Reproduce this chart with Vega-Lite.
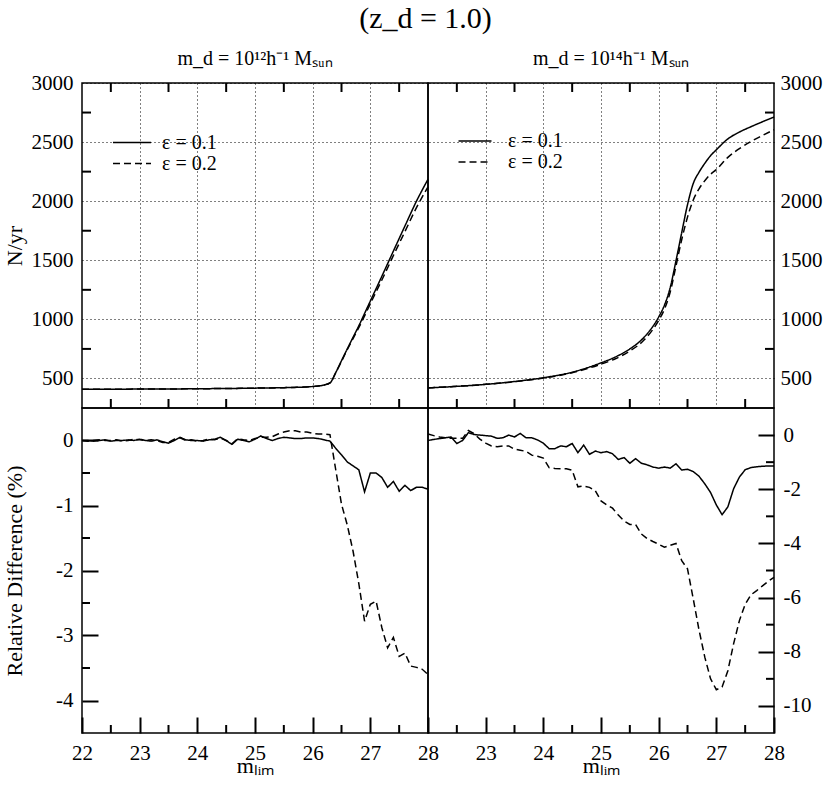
{
  "$schema": "https://vega.github.io/schema/vega-lite/v6.json",
  "padding": {"left": 2, "top": 4, "right": 4, "bottom": 2},
  "title": {"text": "(z_d = 1.0)", "fontSize": 30, "anchor": "middle", "offset": 14, "dx": 13},
  "datasets": {
    "top12": [
      {"m": 22, "e1": 408, "e2": 408}, {"m": 22.5, "e1": 409, "e2": 409}, {"m": 23, "e1": 410, "e2": 410},
      {"m": 23.5, "e1": 411, "e2": 411}, {"m": 24, "e1": 413, "e2": 413}, {"m": 24.5, "e1": 415, "e2": 415},
      {"m": 25, "e1": 418, "e2": 418}, {"m": 25.5, "e1": 422, "e2": 422}, {"m": 26, "e1": 432, "e2": 432},
      {"m": 26.2, "e1": 445, "e2": 445}, {"m": 26.3, "e1": 462, "e2": 462}, {"m": 26.4, "e1": 550, "e2": 547},
      {"m": 26.5, "e1": 650, "e2": 645}, {"m": 26.6, "e1": 750, "e2": 743}, {"m": 26.7, "e1": 848, "e2": 837},
      {"m": 26.8, "e1": 945, "e2": 930}, {"m": 26.9, "e1": 1050, "e2": 1029}, {"m": 27, "e1": 1155, "e2": 1132},
      {"m": 27.2, "e1": 1365, "e2": 1333}, {"m": 27.4, "e1": 1578, "e2": 1540}, {"m": 27.6, "e1": 1790, "e2": 1743},
      {"m": 27.8, "e1": 2000, "e2": 1945}, {"m": 28, "e1": 2185, "e2": 2122}
    ],
    "top14": [
      {"m": 22, "e1": 420, "e2": 420}, {"m": 22.5, "e1": 433, "e2": 433}, {"m": 23, "e1": 450, "e2": 450},
      {"m": 23.5, "e1": 474, "e2": 472}, {"m": 24, "e1": 506, "e2": 503}, {"m": 24.5, "e1": 553, "e2": 548},
      {"m": 25, "e1": 632, "e2": 621}, {"m": 25.25, "e1": 682, "e2": 667}, {"m": 25.5, "e1": 750, "e2": 732},
      {"m": 25.75, "e1": 850, "e2": 827}, {"m": 26, "e1": 1020, "e2": 991}, {"m": 26.1, "e1": 1120, "e2": 1086},
      {"m": 26.2, "e1": 1268, "e2": 1231}, {"m": 26.3, "e1": 1495, "e2": 1451}, {"m": 26.4, "e1": 1735, "e2": 1676},
      {"m": 26.5, "e1": 1970, "e2": 1865}, {"m": 26.6, "e1": 2150, "e2": 2010}, {"m": 26.7, "e1": 2245, "e2": 2105},
      {"m": 26.8, "e1": 2320, "e2": 2173}, {"m": 26.9, "e1": 2385, "e2": 2228}, {"m": 27, "e1": 2435, "e2": 2267},
      {"m": 27.2, "e1": 2527, "e2": 2371}, {"m": 27.4, "e1": 2585, "e2": 2445}, {"m": 27.6, "e1": 2630, "e2": 2505},
      {"m": 27.8, "e1": 2672, "e2": 2556}, {"m": 28, "e1": 2712, "e2": 2605}
    ],
    "bot12": [
      {"m": 22, "e1": 0, "e2": 0}, {"m": 22.1, "e1": 0, "e2": -0.01}, {"m": 22.2, "e1": -0.01, "e2": 0},
      {"m": 22.3, "e1": 0, "e2": 0.01}, {"m": 22.4, "e1": 0.01, "e2": 0}, {"m": 22.5, "e1": -0.01, "e2": 0},
      {"m": 22.6, "e1": 0, "e2": 0.01}, {"m": 22.7, "e1": 0, "e2": -0.01}, {"m": 22.8, "e1": 0.01, "e2": 0},
      {"m": 22.9, "e1": 0, "e2": 0.02}, {"m": 23, "e1": 0.02, "e2": 0.01}, {"m": 23.1, "e1": 0, "e2": 0},
      {"m": 23.2, "e1": -0.01, "e2": 0.01}, {"m": 23.3, "e1": 0.01, "e2": 0}, {"m": 23.4, "e1": -0.02, "e2": -0.03},
      {"m": 23.5, "e1": -0.04, "e2": -0.03}, {"m": 23.6, "e1": 0, "e2": 0.02}, {"m": 23.7, "e1": 0.05, "e2": 0.04},
      {"m": 23.8, "e1": 0.01, "e2": 0}, {"m": 23.9, "e1": 0, "e2": 0.01}, {"m": 24, "e1": 0, "e2": -0.01},
      {"m": 24.1, "e1": -0.01, "e2": 0}, {"m": 24.2, "e1": 0.01, "e2": 0.02}, {"m": 24.3, "e1": 0.02, "e2": 0.01},
      {"m": 24.4, "e1": 0.05, "e2": 0.04}, {"m": 24.5, "e1": 0, "e2": 0}, {"m": 24.6, "e1": -0.06, "e2": -0.05},
      {"m": 24.7, "e1": 0.02, "e2": 0.03}, {"m": 24.8, "e1": 0, "e2": 0.01}, {"m": 24.9, "e1": -0.02, "e2": 0},
      {"m": 25, "e1": 0.02, "e2": 0.03}, {"m": 25.1, "e1": 0.07, "e2": 0.05}, {"m": 25.2, "e1": 0.03, "e2": 0.05},
      {"m": 25.3, "e1": 0, "e2": 0.06}, {"m": 25.4, "e1": 0.03, "e2": 0.1}, {"m": 25.5, "e1": 0.05, "e2": 0.13},
      {"m": 25.6, "e1": 0.04, "e2": 0.15}, {"m": 25.7, "e1": 0.03, "e2": 0.15}, {"m": 25.8, "e1": 0.03, "e2": 0.13},
      {"m": 25.9, "e1": 0.04, "e2": 0.13}, {"m": 26, "e1": 0.04, "e2": 0.11}, {"m": 26.1, "e1": 0.03, "e2": 0.1},
      {"m": 26.2, "e1": 0.01, "e2": 0.1}, {"m": 26.3, "e1": -0.01, "e2": 0.09}, {"m": 26.4, "e1": -0.12, "e2": -0.45},
      {"m": 26.5, "e1": -0.22, "e2": -0.98}, {"m": 26.6, "e1": -0.33, "e2": -1.3}, {"m": 26.7, "e1": -0.39, "e2": -1.7},
      {"m": 26.8, "e1": -0.45, "e2": -2.2}, {"m": 26.9, "e1": -0.79, "e2": -2.78}, {"m": 27, "e1": -0.5, "e2": -2.52},
      {"m": 27.1, "e1": -0.5, "e2": -2.47}, {"m": 27.2, "e1": -0.57, "e2": -2.88}, {"m": 27.3, "e1": -0.72, "e2": -3.19},
      {"m": 27.4, "e1": -0.63, "e2": -3.03}, {"m": 27.5, "e1": -0.78, "e2": -3.32}, {"m": 27.6, "e1": -0.69, "e2": -3.27},
      {"m": 27.7, "e1": -0.77, "e2": -3.47}, {"m": 27.8, "e1": -0.72, "e2": -3.49}, {"m": 27.9, "e1": -0.72, "e2": -3.52},
      {"m": 28, "e1": -0.75, "e2": -3.6}
    ],
    "bot14": [
      {"m": 22, "e1": -0.2, "e2": 0.04}, {"m": 22.1, "e1": -0.16, "e2": -0.02}, {"m": 22.2, "e1": -0.13, "e2": -0.07},
      {"m": 22.3, "e1": -0.1, "e2": -0.1}, {"m": 22.4, "e1": -0.07, "e2": -0.12}, {"m": 22.5, "e1": -0.31, "e2": -0.12},
      {"m": 22.6, "e1": -0.2, "e2": -0.12}, {"m": 22.7, "e1": 0.09, "e2": 0.17}, {"m": 22.8, "e1": 0.02, "e2": 0.05},
      {"m": 22.9, "e1": 0, "e2": -0.15}, {"m": 23, "e1": -0.02, "e2": -0.3}, {"m": 23.1, "e1": -0.04, "e2": -0.4},
      {"m": 23.2, "e1": -0.12, "e2": -0.43}, {"m": 23.3, "e1": -0.1, "e2": -0.4}, {"m": 23.4, "e1": 0, "e2": -0.4},
      {"m": 23.5, "e1": -0.07, "e2": -0.52}, {"m": 23.6, "e1": 0.06, "e2": -0.56}, {"m": 23.7, "e1": -0.1, "e2": -0.6},
      {"m": 23.8, "e1": -0.1, "e2": -0.74}, {"m": 23.9, "e1": -0.18, "e2": -0.78}, {"m": 24, "e1": -0.3, "e2": -0.85},
      {"m": 24.1, "e1": -0.5, "e2": -1.2}, {"m": 24.2, "e1": -0.5, "e2": -1.23}, {"m": 24.3, "e1": -0.4, "e2": -1.24},
      {"m": 24.4, "e1": -0.43, "e2": -1.24}, {"m": 24.5, "e1": -0.31, "e2": -1.3}, {"m": 24.6, "e1": -0.65, "e2": -1.91},
      {"m": 24.7, "e1": -0.37, "e2": -1.88}, {"m": 24.8, "e1": -0.71, "e2": -1.93}, {"m": 24.9, "e1": -0.59, "e2": -2.05},
      {"m": 25, "e1": -0.65, "e2": -2.43}, {"m": 25.1, "e1": -0.61, "e2": -2.58}, {"m": 25.2, "e1": -0.69, "e2": -2.7},
      {"m": 25.3, "e1": -0.9, "e2": -2.95}, {"m": 25.4, "e1": -0.83, "e2": -3.17}, {"m": 25.5, "e1": -1.04, "e2": -3.3},
      {"m": 25.6, "e1": -0.87, "e2": -3.3}, {"m": 25.7, "e1": -1.04, "e2": -3.65}, {"m": 25.8, "e1": -1.1, "e2": -3.82},
      {"m": 25.9, "e1": -1.18, "e2": -3.93}, {"m": 26, "e1": -1.22, "e2": -4.03}, {"m": 26.1, "e1": -1.18, "e2": -4.14},
      {"m": 26.2, "e1": -1.22, "e2": -4.07}, {"m": 26.3, "e1": -1.06, "e2": -4.0}, {"m": 26.4, "e1": -1.29, "e2": -4.64},
      {"m": 26.5, "e1": -1.26, "e2": -4.94}, {"m": 26.6, "e1": -1.35, "e2": -6.05}, {"m": 26.7, "e1": -1.52, "e2": -7.2},
      {"m": 26.8, "e1": -1.8, "e2": -8.2}, {"m": 26.9, "e1": -2.12, "e2": -9.0}, {"m": 27, "e1": -2.58, "e2": -9.4},
      {"m": 27.1, "e1": -2.94, "e2": -9.3}, {"m": 27.2, "e1": -2.65, "e2": -8.7}, {"m": 27.3, "e1": -1.98, "e2": -7.7},
      {"m": 27.4, "e1": -1.55, "e2": -6.85}, {"m": 27.5, "e1": -1.28, "e2": -6.25}, {"m": 27.6, "e1": -1.2, "e2": -5.9},
      {"m": 27.7, "e1": -1.17, "e2": -5.74}, {"m": 27.8, "e1": -1.15, "e2": -5.57}, {"m": 27.9, "e1": -1.14, "e2": -5.4},
      {"m": 28, "e1": -1.14, "e2": -5.25}
    ],
    "xmin": [{"t": 22.5}, {"t": 23.5}, {"t": 24.5}, {"t": 25.5}, {"t": 26.5}, {"t": 27.5}],
    "ytmin": [{"t": 750}, {"t": 1250}, {"t": 1750}, {"t": 2250}, {"t": 2750}],
    "ylmin": [{"t": -3.5}, {"t": -2.5}, {"t": -1.5}, {"t": -0.5}],
    "yrmin": [{"t": -9}, {"t": -7}, {"t": -5}, {"t": -3}, {"t": -1}]
  },
  "columns": 2,
  "spacing": 0,
  "bounds": "flush",
  "resolve": {"scale": {"strokeDash": "independent"}, "legend": {"strokeDash": "independent"}},
  "concat": [
    {
      "width": 346, "height": 325,
      "title": {"text": "m_d = 10¹²h⁻¹ Mₛᵤₙ", "fontSize": 20, "offset": 3},
      "layer": [
        {
          "data": {"name": "top12"},
          "transform": [{"fold": ["e1", "e2"], "as": ["eps", "n"]}],
          "mark": {"type": "line", "color": "black", "strokeWidth": 1.5, "interpolate": "monotone"},
          "encoding": {
            "x": {"field": "m", "type": "quantitative", "scale": {"domain": [22, 28], "nice": false, "zero": false},
              "axis": {"orient": "bottom", "title": null, "labels": false, "ticks": false, "grid": true, "values": [23, 24, 25, 26, 27]}},
            "y": {"field": "n", "type": "quantitative", "scale": {"domain": [250, 3000], "nice": false, "zero": false},
              "axis": {"orient": "left", "title": "N/yr", "titlePadding": 5, "ticks": false, "grid": true, "labelPadding": 9,
                "values": [500, 1000, 1500, 2000, 2500, 3000], "labelExpr": "'' + datum.value"}},
            "strokeDash": {"field": "eps", "type": "nominal", "scale": {"domain": ["e1", "e2"], "range": [[1, 0], [7, 4]]},
              "legend": {"title": null, "orient": "none", "legendX": 39.5, "legendY": 49, "padding": 0,
                "symbolType": "M-2,0H2", "symbolSize": 361, "symbolStrokeWidth": 1.5, "symbolStrokeColor": "black", "symbolFillColor": "transparent",
                "labelFont": "Liberation Serif", "labelFontSize": 20, "labelColor": "black", "labelOffset": 19.5, "rowPadding": 0,
                "labelExpr": "datum.label === 'e1' ? 'ε = 0.1' : 'ε = 0.2'"}}
          }
        },
        {
          "data": {"name": "xmin"},
          "mark": {"type": "rule", "color": "black", "strokeWidth": 2},
          "encoding": {"x": {"field": "t", "type": "quantitative", "axis": null},
            "y": {"datum": 250, "type": "quantitative", "axis": null}, "y2": {"datum": 326}}
        },
        {
          "data": {"name": "xmin"},
          "mark": {"type": "rule", "color": "black", "strokeWidth": 2},
          "encoding": {"x": {"field": "t", "type": "quantitative", "axis": null},
            "y": {"datum": 3000, "type": "quantitative", "axis": null}, "y2": {"datum": 2924}}
        },
        {
          "data": {"name": "ytmin"},
          "mark": {"type": "rule", "color": "black", "strokeWidth": 2},
          "encoding": {"y": {"field": "t", "type": "quantitative", "axis": null},
            "x": {"datum": 22, "type": "quantitative", "axis": null}, "x2": {"datum": 22.156}}
        }
      ],
      "resolve": {"axis": {"x": "independent", "y": "independent"}}
    },
    {
      "width": 346, "height": 325,
      "title": {"text": "m_d = 10¹⁴h⁻¹ Mₛᵤₙ", "fontSize": 20, "offset": 3, "dx": 10},
      "layer": [
        {
          "data": {"name": "top14"},
          "transform": [{"fold": ["e1", "e2"], "as": ["eps", "n"]}],
          "mark": {"type": "line", "color": "black", "strokeWidth": 1.5, "interpolate": "monotone"},
          "encoding": {
            "x": {"field": "m", "type": "quantitative", "scale": {"domain": [22, 28], "nice": false, "zero": false},
              "axis": {"orient": "bottom", "title": null, "labels": false, "ticks": false, "grid": true, "values": [23, 24, 25, 26, 27]}},
            "y": {"field": "n", "type": "quantitative", "scale": {"domain": [250, 3000], "nice": false, "zero": false},
              "axis": {"orient": "right", "title": null, "ticks": false, "grid": true, "labelPadding": 6,
                "values": [500, 1000, 1500, 2000, 2500, 3000], "labelExpr": "'' + datum.value"}},
            "strokeDash": {"field": "eps", "type": "nominal", "scale": {"domain": ["e1", "e2"], "range": [[1, 0], [7, 4]]},
              "legend": {"title": null, "orient": "none", "legendX": 37, "legendY": 48, "padding": 0,
                "symbolType": "M-2,0H2", "symbolSize": 272, "symbolStrokeWidth": 1.5, "symbolStrokeColor": "black", "symbolFillColor": "transparent",
                "labelFont": "Liberation Serif", "labelFontSize": 20, "labelColor": "black", "labelOffset": 23, "rowPadding": 1,
                "labelExpr": "datum.label === 'e1' ? 'ε = 0.1' : 'ε = 0.2'"}}
          }
        },
        {
          "data": {"name": "xmin"},
          "mark": {"type": "rule", "color": "black", "strokeWidth": 2},
          "encoding": {"x": {"field": "t", "type": "quantitative", "axis": null},
            "y": {"datum": 250, "type": "quantitative", "axis": null}, "y2": {"datum": 326}}
        },
        {
          "data": {"name": "xmin"},
          "mark": {"type": "rule", "color": "black", "strokeWidth": 2},
          "encoding": {"x": {"field": "t", "type": "quantitative", "axis": null},
            "y": {"datum": 3000, "type": "quantitative", "axis": null}, "y2": {"datum": 2924}}
        },
        {
          "data": {"name": "ytmin"},
          "mark": {"type": "rule", "color": "black", "strokeWidth": 2},
          "encoding": {"y": {"field": "t", "type": "quantitative", "axis": null},
            "x": {"datum": 28, "type": "quantitative", "axis": null}, "x2": {"datum": 27.844}}
        }
      ],
      "resolve": {"axis": {"x": "independent", "y": "independent"}}
    },
    {
      "width": 346, "height": 325,
      "layer": [
        {
          "data": {"name": "bot12"},
          "transform": [{"fold": ["e1", "e2"], "as": ["eps", "d"]}],
          "mark": {"type": "line", "color": "black", "strokeWidth": 1.5},
          "encoding": {
            "x": {"field": "m", "type": "quantitative", "scale": {"domain": [22, 28], "nice": false, "zero": false},
              "axis": {"orient": "bottom", "title": "mₗᵢₘ", "titlePadding": -8, "grid": false, "ticks": true,
                "offset": -16, "tickSize": 16, "tickColor": "black", "tickWidth": 2, "domain": true, "domainOpacity": 0, "labelPadding": 9,
                "values": [22, 23, 24, 25, 26, 27, 28], "labelExpr": "'' + datum.value"}},
            "y": {"field": "d", "type": "quantitative", "scale": {"domain": [-4.5, 0.5], "nice": false, "zero": false},
              "axis": {"orient": "left", "title": "Relative Difference (%)", "titlePadding": 29, "grid": false, "ticks": true,
                "offset": -16, "tickSize": 16, "tickColor": "black", "tickWidth": 2, "domain": true, "domainOpacity": 0, "labelPadding": 9,
                "values": [-4, -3, -2, -1, 0], "labelExpr": "'' + datum.value"}},
            "strokeDash": {"field": "eps", "type": "nominal", "scale": {"domain": ["e1", "e2"], "range": [[1, 0], [7, 4]]}, "legend": null}
          }
        },
        {
          "data": {"name": "xmin"},
          "mark": {"type": "rule", "color": "black", "strokeWidth": 2},
          "encoding": {"x": {"field": "t", "type": "quantitative", "axis": null},
            "y": {"datum": -4.5, "type": "quantitative", "axis": null}, "y2": {"datum": -4.377}}
        },
        {
          "data": {"name": "ylmin"},
          "mark": {"type": "rule", "color": "black", "strokeWidth": 2},
          "encoding": {"y": {"field": "t", "type": "quantitative", "axis": null},
            "x": {"datum": 22, "type": "quantitative", "axis": null}, "x2": {"datum": 22.139}}
        }
      ],
      "resolve": {"axis": {"x": "independent", "y": "independent"}}
    },
    {
      "width": 346, "height": 325,
      "layer": [
        {
          "data": {"name": "bot14"},
          "transform": [{"fold": ["e1", "e2"], "as": ["eps", "d"]}],
          "mark": {"type": "line", "color": "black", "strokeWidth": 1.5},
          "encoding": {
            "x": {"field": "m", "type": "quantitative", "scale": {"domain": [22, 28], "nice": false, "zero": false},
              "axis": {"orient": "bottom", "title": "mₗᵢₘ", "titlePadding": -8, "grid": false, "ticks": true,
                "offset": -16, "tickSize": 16, "tickColor": "black", "tickWidth": 2, "domain": true, "domainOpacity": 0, "labelPadding": 9,
                "values": [23, 24, 25, 26, 27, 28], "labelExpr": "'' + datum.value"}},
            "y": {"field": "d", "type": "quantitative", "scale": {"domain": [-11, 1], "nice": false, "zero": false},
              "axis": {"orient": "right", "title": null, "grid": false, "ticks": true,
                "offset": -16, "tickSize": 16, "tickColor": "black", "tickWidth": 2, "domain": true, "domainOpacity": 0, "labelPadding": 9,
                "values": [-10, -8, -6, -4, -2, 0], "labelExpr": "'' + datum.value"}},
            "strokeDash": {"field": "eps", "type": "nominal", "scale": {"domain": ["e1", "e2"], "range": [[1, 0], [7, 4]]}, "legend": null}
          }
        },
        {
          "data": {"name": "xmin"},
          "mark": {"type": "rule", "color": "black", "strokeWidth": 2},
          "encoding": {"x": {"field": "t", "type": "quantitative", "axis": null},
            "y": {"datum": -11, "type": "quantitative", "axis": null}, "y2": {"datum": -10.705}}
        },
        {
          "data": {"name": "yrmin"},
          "mark": {"type": "rule", "color": "black", "strokeWidth": 2},
          "encoding": {"y": {"field": "t", "type": "quantitative", "axis": null},
            "x": {"datum": 28, "type": "quantitative", "axis": null}, "x2": {"datum": 27.861}}
        }
      ],
      "resolve": {"axis": {"x": "independent", "y": "independent"}}
    }
  ],
  "config": {
    "font": "Liberation Serif",
    "view": {"stroke": "black", "strokeWidth": 1.5},
    "title": {"font": "Liberation Serif", "fontWeight": "normal", "color": "black"},
    "axis": {"domain": false, "labelFont": "Liberation Serif", "labelFontSize": 21, "labelColor": "black",
      "gridColor": "black", "gridDash": [1, 3], "gridWidth": 1,
      "titleFont": "Liberation Serif", "titleFontSize": 22, "titleFontWeight": "normal", "titleColor": "black",
      "labelFlush": false, "labelOverlap": false, "labelBound": false}
  }
}
